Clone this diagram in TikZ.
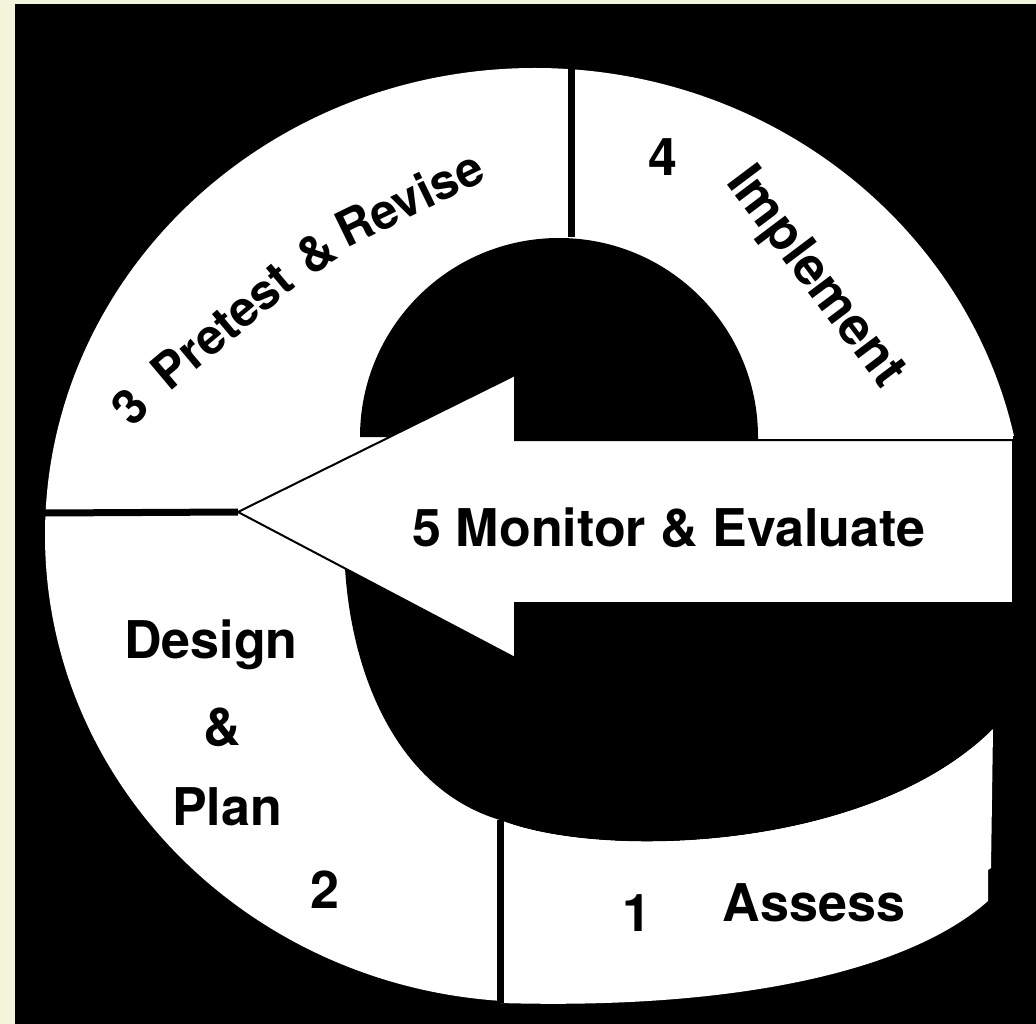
\documentclass[tikz,border=0pt]{standalone}
\usepackage{fontspec}
\setmainfont{TeX Gyre Heros}
\definecolor{paper}{RGB}{242,244,220}

\begin{document}
\begin{tikzpicture}[x=1pt, y=-1pt,
  phase/.style = {font=\bfseries\fontsize{52}{54}\selectfont, inner sep=0pt},
  arcphase/.style = {font=\bfseries\fontsize{49}{51}\selectfont, inner sep=0pt},
  divider/.style = {line width=7pt},
  outline/.style = {line width=2pt, line join=miter}]
  \useasboundingbox[fill=paper] (0,0) rectangle (1036,1024);
  \fill[black] (15,4) rectangle (1036,1024);
  % the white ring
  \fill[white] (535,535) ellipse [x radius=490, y radius=467];
  % upper bowl of the e
  \fill[black] (360,437) arc [start angle=180, end angle=360, radius=199]
    -- (758,440) -- (515,440) -- (515,437) -- cycle;
  % lower part of the e
  \fill[black] (345,568) -- (420,520) -- (1013,520) -- (1013,436)
    -- (1036,436) -- (1036,729) -- (993,729)
    .. controls (870,852) and (600,860) .. (500,820)
    .. controls (400,790) and (352,680) .. cycle;
  % band of step 1
  \fill[white] (500,820) .. controls (600,860) and (870,852) .. (993,729)
    -- (991,868) -- (988,870) -- (988,901)
    .. controls (910,970) and (740,1010) .. (500,1003) -- cycle;
  % the arrow
  \coordinate (tip) at (238,512);
  \draw[outline, fill=white] (tip) -- (515,375) -- (515,440) -- (1013,440)
    -- (1013,603) -- (515,603) -- (515,658) -- cycle;
  % dividers between the steps
  \coordinate (rimW) at (45,513);
  \coordinate (rimN) at (571,67);
  \coordinate (holeN) at (571,237);
  \coordinate (rimS) at (500,1003);
  \coordinate (holeS) at (500,820);
  \draw[divider] (rimW) -- (tip);
  \draw[divider] (rimN) -- (holeN);
  \draw[divider] (holeS) -- (rimS);

  \node[phase] (monitor) at (669,528) {5 Monitor \& Evaluate};
  \node[phase] (design) at (211,645) {Design};
  \node[phase] (amp) at (222,727) {\&};
  \node[phase] (plan) at (227,807) {Plan};
  \node[phase] (two) at (325,890) {2};
  \node[phase] (one) at (637,913) {1};
  \node[phase] (assess) at (814,903) {Assess};
  \node[phase] (four) at (663,157) {4};
  \node[phase, rotate=-53] (implement) at (814,278) {Implement};
  \node[arcphase, rotate=47] (three) at (130,407) {3};
  \node[arcphase, rotate=40] (pretest) at (222,326) {Pretest};
  \node[arcphase, rotate=33] (and) at (316,252) {\&};
  \node[arcphase, rotate=26] (revise) at (409,198) {Revise};
\end{tikzpicture}
\end{document}
